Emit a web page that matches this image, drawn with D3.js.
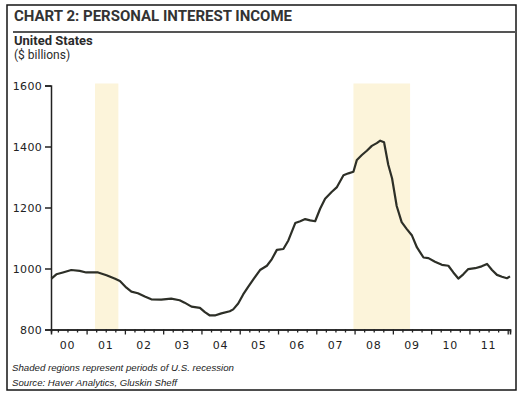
<!DOCTYPE html>
<html><head><meta charset="utf-8">
<script src="https://cdn.jsdelivr.net/npm/d3@7/dist/d3.min.js"></script>
<style>html,body{margin:0;padding:0;background:#fff}svg{display:block}</style>
</head><body>
<svg id="c" width="528" height="397"></svg>
<script>
// ---- data ----
const dates = [2000.08,2000.21,2000.38,2000.60,2000.82,2000.99,2001.30,2001.52,2001.73,2001.87,
2002.04,2002.17,2002.34,2002.52,2002.69,2002.95,2003.21,2003.43,2003.56,2003.74,2003.96,
2004.09,2004.22,2004.35,2004.52,2004.74,2004.83,2004.96,2005.09,2005.22,2005.36,2005.53,
2005.71,2005.84,2005.97,2006.14,2006.27,2006.45,2006.58,2006.71,2006.84,2006.97,2007.10,
2007.23,2007.40,2007.54,2007.71,2007.84,2007.97,2008.06,2008.19,2008.32,2008.45,2008.58,
2008.67,2008.77,2008.88,2008.98,2009.10,2009.23,2009.36,2009.50,2009.63,2009.80,2009.93,
2010.10,2010.28,2010.45,2010.58,2010.71,2010.84,2010.97,2011.15,2011.32,2011.46,2011.59,
2011.72,2011.85,2011.98,2012.06];
const values = [967,981,987,995,992,987,987,978,967,959,
937,924,919,908,899,898,901,896,888,875,871,
857,846,846,853,860,866,885,915,940,965,995,
1009,1031,1061,1064,1092,1149,1155,1162,1158,1155,1196,
1229,1251,1267,1306,1312,1317,1356,1372,1386,1402,1411,
1419,1414,1340,1295,1205,1152,1130,1108,1069,1036,1034,
1022,1012,1009,987,967,981,998,1001,1007,1015,995,
979,973,968,974];
const recessionStart = [2001.22, 2007.97];
const recessionEnd   = [2001.83, 2009.45];
const yTicks = [800,1000,1200,1400,1600];
const years = [2000,2001,2002,2003,2004,2005,2006,2007,2008,2009,2010,2011];
const yearLabels = ["00","01","02","03","04","05","06","07","08","09","10","11"];
const title = "CHART 2: PERSONAL INTEREST INCOME";
const subtitle1 = "United States";
const subtitle2 = "($ billions)";
const note = "Shaded regions represent periods of U.S. recession";
const source = "Source: Haver Analytics, Gluskin Sheff";

// ---- layout ----
const svg = d3.select("#c");
const x = d3.scaleLinear().domain([2000.07, 2012.06]).range([51, 510]);
const y = d3.scaleLinear().domain([800, 1600]).range([329.5, 85.5]);

// frame
svg.append("rect").attr("x",7).attr("y",5).attr("width",509).attr("height",385)
  .attr("fill","#fff").attr("stroke","#151515").attr("stroke-width",1.5);

// title
svg.append("text").attr("x",14).attr("y",21).text(title)
  .attr("font-family","Roboto, 'Liberation Sans', sans-serif").attr("font-weight","bold")
  .attr("font-size",14).attr("fill","#333")
  .attr("textLength",278).attr("lengthAdjust","spacingAndGlyphs");
svg.append("line").attr("x1",13).attr("x2",516).attr("y1",32).attr("y2",32)
  .attr("stroke","#555").attr("stroke-width",2.2);
svg.append("text").attr("x",14).attr("y",45).text(subtitle1)
  .attr("font-family","Roboto, sans-serif").attr("font-weight","bold")
  .attr("font-size",13).attr("fill","#2b2b2b");
svg.append("text").attr("x",14).attr("y",59).text(subtitle2)
  .attr("font-family","Roboto, sans-serif")
  .attr("font-size",12).attr("fill","#2b2b2b");

// recession shading
const rec = recessionStart.map((s,i)=>({s, e: recessionEnd[i]}));
svg.append("g").selectAll("rect").data(rec).join("rect")
  .attr("x", d=>x(d.s)).attr("width", d=>x(d.e)-x(d.s))
  .attr("y", y(1600)-2).attr("height", y(800)-y(1600)+2)
  .attr("fill","#fcf4da");

// y axis
const yAxis = d3.axisLeft(y).tickValues(yTicks).tickSize(6).tickPadding(3).tickFormat(d3.format("d"));
const gy = svg.append("g").attr("transform",`translate(${x(2000.07)},0)`).call(yAxis);
gy.select(".domain").attr("stroke","#222").attr("stroke-width",1.5);
gy.selectAll(".tick line").attr("stroke","#222").attr("stroke-width",1.5);
gy.selectAll(".tick text").attr("font-family","'DejaVu Sans', sans-serif").attr("font-size",11)
  .attr("fill","#222").attr("letter-spacing",0.3);

// x axis: major ticks at year starts, minor quarterly
const majorTicks = years.map(yr=>yr+1);
const minorTicks = [];
years.forEach(yr=>[0.25,0.5,0.75].forEach(q=>minorTicks.push(yr+q)));
const gx = svg.append("g").attr("transform",`translate(0,${y(800)})`);
gx.call(d3.axisBottom(x).tickValues(minorTicks.filter(t=>t>=2000.07)).tickSize(3).tickFormat(""));
gx.append("g").call(d3.axisBottom(x).tickValues(majorTicks).tickSize(5).tickFormat(""));
gx.selectAll(".domain").attr("stroke","#222").attr("stroke-width",1.5);
gx.selectAll(".tick line").attr("stroke","#222").attr("stroke-width",1.3);
gx.selectAll(".tick text").remove();
svg.append("g").selectAll("text").data(years).join("text")
  .attr("x", (d)=>x(d+0.5)).attr("y", 349).attr("text-anchor","middle")
  .text((d,i)=>yearLabels[i])
  .attr("font-family","'DejaVu Sans', sans-serif").attr("font-size",11)
  .attr("letter-spacing",0.8).attr("fill","#222");

// line
const pts = dates.map((d,i)=>[d, values[i]]);
svg.append("path").datum(pts)
  .attr("d", d3.line().x(d=>x(d[0])).y(d=>y(d[1])))
  .attr("fill","none").attr("stroke","#2d2f27").attr("stroke-width",2.2)
  .attr("stroke-linejoin","round");

// footnotes
svg.append("text").attr("x",12).attr("y",371).text(note)
  .attr("font-family","'Liberation Sans', sans-serif").attr("font-style","italic")
  .attr("font-size",9.8).attr("fill","#222")
  .attr("textLength",222).attr("lengthAdjust","spacingAndGlyphs");
svg.append("text").attr("x",12).attr("y",386).text(source)
  .attr("font-family","'Liberation Sans', sans-serif").attr("font-style","italic")
  .attr("font-size",9.8).attr("fill","#222")
  .attr("textLength",165).attr("lengthAdjust","spacingAndGlyphs");
</script>
</body></html>
